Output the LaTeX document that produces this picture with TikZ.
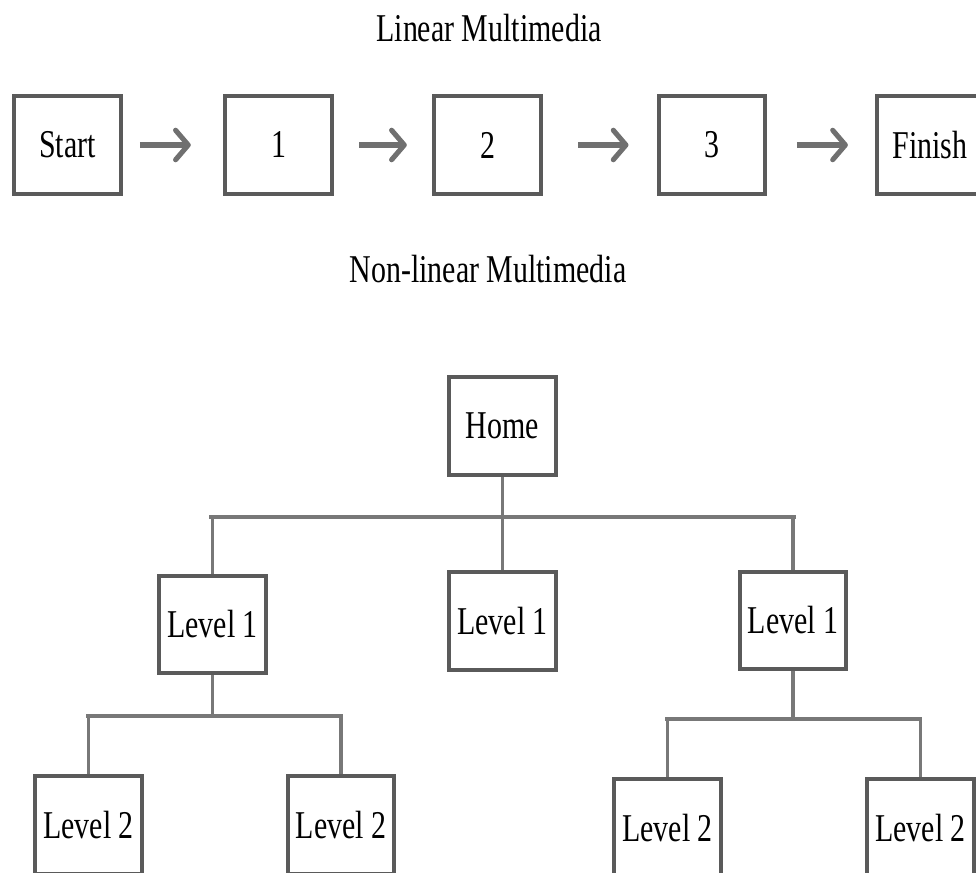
\documentclass[tikz,border=0pt]{standalone}
\usepackage{fontspec}
\setmainfont{Liberation Serif}[FakeStretch=0.76]
\usetikzlibrary{arrows.meta}
\definecolor{boxgray}{RGB}{90,90,90}
\definecolor{linegray}{RGB}{120,120,120}
\definecolor{arrowgray}{RGB}{112,112,112}
\begin{document}
\begin{tikzpicture}[x=0.025cm, y=-0.025cm,
  box/.style={draw=boxgray, line width=2.8pt, fill=white,
    minimum width=2.67cm, minimum height=2.44cm, inner sep=0pt,
    font=\fontsize{28}{32}\selectfont},
  heading/.style={inner sep=0pt, anchor=base, font=\fontsize{28}{32}\selectfont},
  flow/.style={draw=arrowgray, line width=3.6pt,
    -{Straight Barb[length=9pt, width=21pt, round]}},
  conn/.style={draw=linegray, line width=2.5pt}]

\useasboundingbox (0,0) rectangle (976,873);
\clip (0,0) rectangle (976,873);

% headings
\node[heading] (tlin) at (489,42) {Linear Multimedia};
\node[heading] (tnon) at (488,283) {Non-linear Multimedia};

% linear sequence
\node[box] (start) at (67.5,145) {Start};
\node[box] (s1) at (278.5,145) {1};
\node[box] (s2) at (487.5,145) {2};
\node[box] (s3) at (712,145) {3};
\node[box] (fin) at (930,145) {Finish};

\draw[flow, shorten <=12pt, shorten >=23pt] (start.east) -- (s1.west);
\draw[flow, shorten <=18pt, shorten >=18pt] (s1.east) -- (s2.west);
\draw[flow, shorten <=25pt, shorten >=20pt] (s2.east) -- (s3.west);
\draw[flow, shorten <=21pt, shorten >=19pt] (s3.east) -- (fin.west);

% hierarchy: junction bars
\coordinate (barL) at (209,517);
\coordinate (barR) at (796,517);
\coordinate (subAL) at (86,716);
\coordinate (subAR) at (343,716);
\coordinate (subBL) at (665,719);
\coordinate (subBR) at (922,719);

% positions of the hierarchy boxes
\coordinate (phome) at (502.5,426);
\coordinate (pl1a) at (212.5,624.5);
\coordinate (pl1b) at (502.5,621);
\coordinate (pl1c) at (793,620.5);
\coordinate (pl2a) at (88.5,825);
\coordinate (pl2b) at (341,825);
\coordinate (pl2c) at (667.5,828);
\coordinate (pl2d) at (920.5,828);

% connectors (drawn first, boxes cover their ends)
\draw[conn] (phome) -- (phome |- barL);
\draw[conn] (barL) -- (barR);
\draw[conn] (pl1a |- barL) -- (pl1a);
\draw[conn] (pl1b |- barL) -- (pl1b);
\draw[conn] (pl1c |- barL) -- (pl1c);
\draw[conn] (pl1a) -- (pl1a |- subAL);
\draw[conn] (subAL) -- (subAR);
\draw[conn] (pl2a |- subAL) -- (pl2a);
\draw[conn] (pl2b |- subAL) -- (pl2b);
\draw[conn] (pl1c) -- (pl1c |- subBL);
\draw[conn] (subBL) -- (subBR);
\draw[conn] (pl2c |- subBL) -- (pl2c);
\draw[conn] (pl2d |- subBL) -- (pl2d);

% hierarchy boxes
\node[box] (home) at (phome) {Home};
\node[box] (l1a) at (pl1a) {Level 1};
\node[box] (l1b) at (pl1b) {Level 1};
\node[box] (l1c) at (pl1c) {Level 1};
\node[box] (l2a) at (pl2a) {Level 2};
\node[box] (l2b) at (pl2b) {Level 2};
\node[box] (l2c) at (pl2c) {Level 2};
\node[box] (l2d) at (pl2d) {Level 2};
\end{tikzpicture}
\end{document}
